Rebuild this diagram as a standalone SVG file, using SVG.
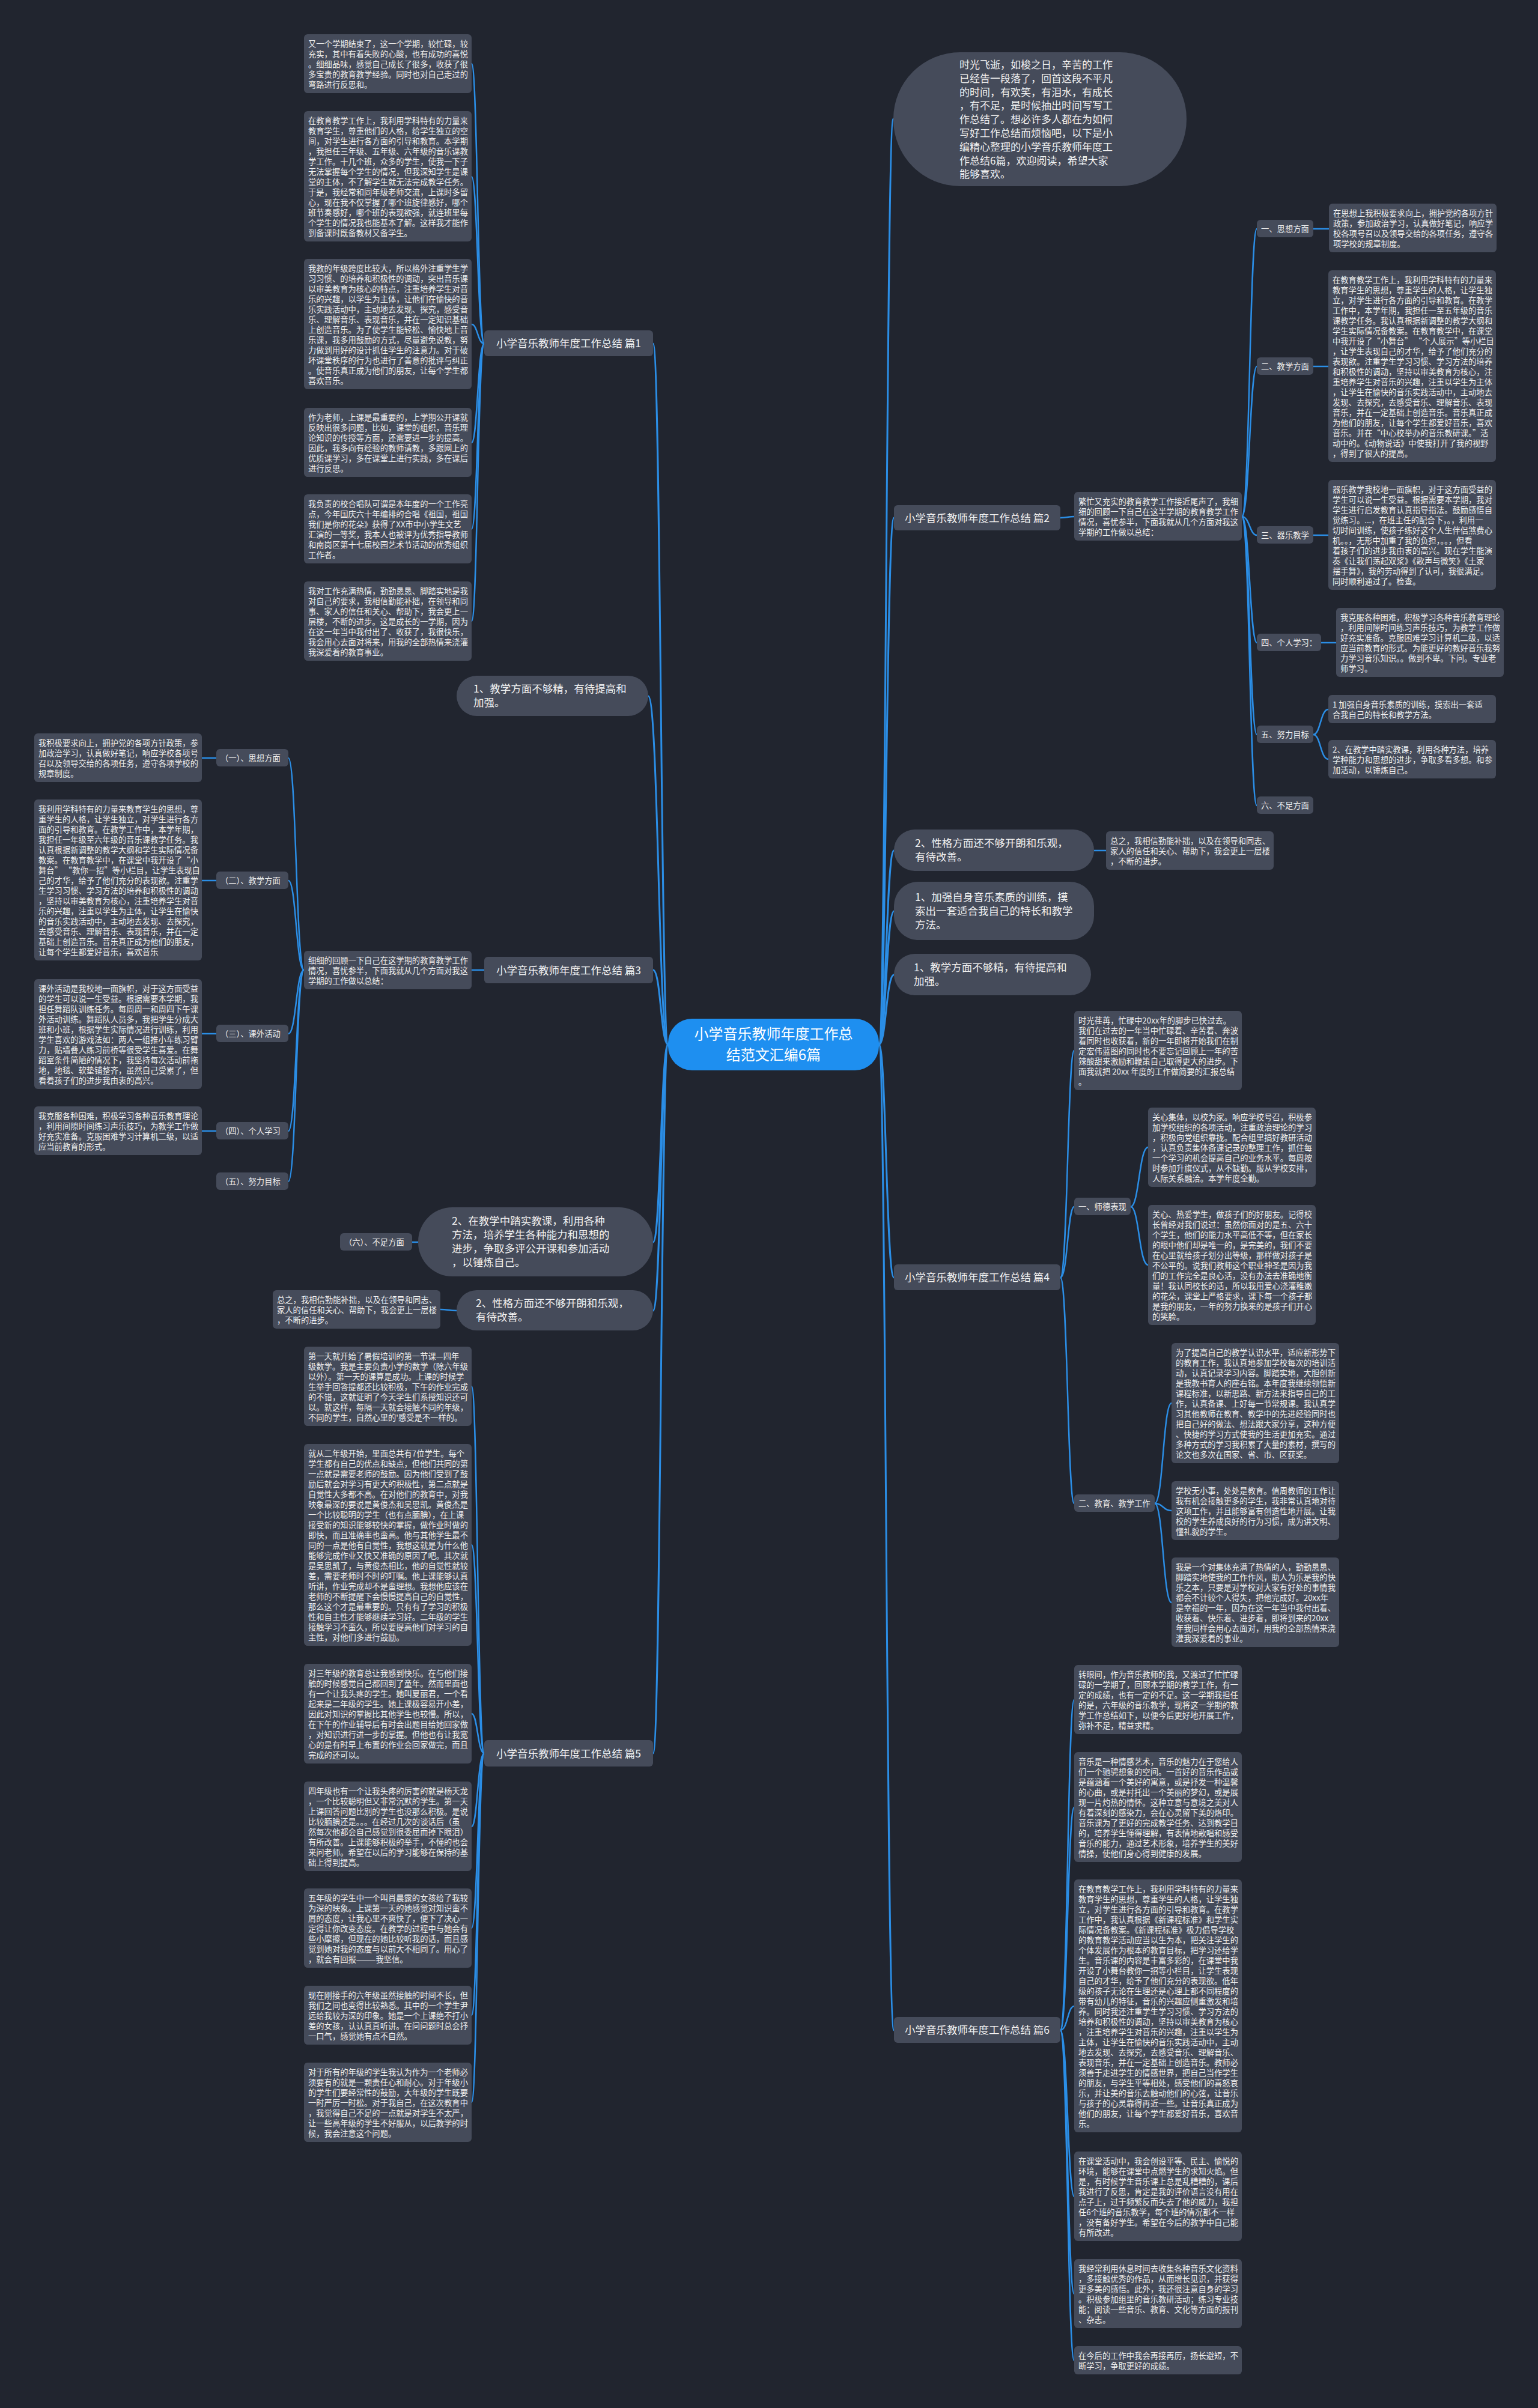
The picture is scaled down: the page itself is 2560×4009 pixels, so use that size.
<svg xmlns="http://www.w3.org/2000/svg" width="2560" height="4009" viewBox="0 0 2560 4009">
<style>
.n{fill:#454b5a}
.t{font-family:"Noto Sans CJK SC","Noto Sans",sans-serif;font-size:13.3px;fill:#f0f0f0}
.t1{font-family:"Noto Sans CJK SC","Noto Sans",sans-serif;font-size:17.5px;fill:#f2f2f2}
.c{fill:none;stroke:#2b8ee6;stroke-width:2.5}
.c0{fill:none;stroke:#2b8ee6;stroke-width:3}
</style>
<rect x="0" y="0" width="2560" height="4009" fill="#21252f"/>
<g id="connectors">
<path class="c0" d="M1463 1739 C1475 1739 1475 198 1487 198"/>
<path class="c0" d="M1463 1739 C1475 1739 1475 862 1488 862"/>
<path class="c0" d="M1463 1739 C1475 1739 1475 1416 1488 1416"/>
<path class="c0" d="M1463 1739 C1475 1739 1475 1517 1488 1517"/>
<path class="c0" d="M1463 1739 C1475 1739 1475 1623 1488 1623"/>
<path class="c0" d="M1463 1739 C1475 1739 1475 2127 1488 2127"/>
<path class="c0" d="M1463 1739 C1475 1739 1475 3380 1488 3380"/>
<path class="c0" d="M1112 1739 C1100 1739 1100 572 1087 572"/>
<path class="c0" d="M1112 1739 C1096 1739 1096 1159 1079 1159"/>
<path class="c0" d="M1112 1739 C1100 1739 1100 1615 1087 1615"/>
<path class="c0" d="M1112 1739 C1100 1739 1100 2068 1087 2068"/>
<path class="c0" d="M1112 1739 C1100 1739 1100 2182 1087 2182"/>
<path class="c0" d="M1112 1739 C1100 1739 1100 2919 1087 2919"/>
<path class="c" d="M806 572 C795 572 795 106 785 106"/>
<path class="c" d="M806 572 C795 572 795 294 785 294"/>
<path class="c" d="M806 572 C795 572 795 540 785 540"/>
<path class="c" d="M806 572 C795 572 795 737 785 737"/>
<path class="c" d="M806 572 C795 572 795 881 785 881"/>
<path class="c" d="M806 572 C795 572 795 1034 785 1034"/>
<path class="c" d="M1765 862 C1777 862 1777 860 1788 860"/>
<path class="c" d="M2067 860 C2080 860 2080 381 2092 381"/>
<path class="c" d="M2067 860 C2080 860 2080 610 2092 610"/>
<path class="c" d="M2067 860 C2080 860 2080 891 2092 891"/>
<path class="c" d="M2067 860 C2080 860 2080 1070 2092 1070"/>
<path class="c" d="M2067 860 C2080 860 2080 1223 2092 1223"/>
<path class="c" d="M2067 860 C2080 860 2080 1341 2092 1341"/>
<path class="c" d="M2186 381 H2212"/>
<path class="c" d="M2186 610 H2211"/>
<path class="c" d="M2186 891 H2211"/>
<path class="c" d="M2199 1070 H2224"/>
<path class="c" d="M2186 1223 C2198 1223 2198 1181 2211 1181"/>
<path class="c" d="M2186 1223 C2198 1223 2198 1264 2211 1264"/>
<path class="c" d="M1821 1416 H1841"/>
<path class="c" d="M1765 2127 C1777 2127 1777 1749 1788 1749"/>
<path class="c" d="M1765 2127 C1777 2127 1777 2009 1788 2009"/>
<path class="c" d="M1765 2127 C1777 2127 1777 2503 1788 2503"/>
<path class="c" d="M1882 2009 C1896 2009 1896 1910 1911 1910"/>
<path class="c" d="M1882 2009 C1896 2009 1896 2106 1911 2106"/>
<path class="c" d="M1922 2503 C1936 2503 1936 2336 1950 2336"/>
<path class="c" d="M1922 2503 C1936 2503 1936 2515 1950 2515"/>
<path class="c" d="M1922 2503 C1936 2503 1936 2668 1950 2668"/>
<path class="c" d="M1765 3380 C1777 3380 1777 2830 1788 2830"/>
<path class="c" d="M1765 3380 C1777 3380 1777 3009 1788 3009"/>
<path class="c" d="M1765 3380 C1777 3380 1777 3340 1788 3340"/>
<path class="c" d="M1765 3380 C1777 3380 1777 3657 1788 3657"/>
<path class="c" d="M1765 3380 C1777 3380 1777 3819 1788 3819"/>
<path class="c" d="M1765 3380 C1777 3380 1777 3930 1788 3930"/>
<path class="c" d="M806 1615 H785"/>
<path class="c" d="M506 1615 C493 1615 493 1262 480 1262"/>
<path class="c" d="M506 1615 C493 1615 493 1466 480 1466"/>
<path class="c" d="M506 1615 C493 1615 493 1721 480 1721"/>
<path class="c" d="M506 1615 C493 1615 493 1883 480 1883"/>
<path class="c" d="M506 1615 C493 1615 493 1967 480 1967"/>
<path class="c" d="M360 1262 H336"/>
<path class="c" d="M360 1466 H336"/>
<path class="c" d="M360 1721 H336"/>
<path class="c" d="M360 1883 H336"/>
<path class="c" d="M696 2068 H686"/>
<path class="c" d="M760 2182 C746 2182 746 2180 733 2180"/>
<path class="c" d="M806 2919 C795 2919 795 2308 785 2308"/>
<path class="c" d="M806 2919 C795 2919 795 2572 785 2572"/>
<path class="c" d="M806 2919 C795 2919 795 2853 785 2853"/>
<path class="c" d="M806 2919 C795 2919 795 3041 785 3041"/>
<path class="c" d="M806 2919 C795 2919 795 3210 785 3210"/>
<path class="c" d="M806 2919 C795 2919 795 3355 785 3355"/>
<path class="c" d="M806 2919 C795 2919 795 3500 785 3500"/>
</g>

<g id="root">
<rect x="1112" y="1696" width="351" height="86" rx="40" fill="#1e8ff0"/>
<text x="1287.5" y="1730" text-anchor="middle" style="font-family:'Noto Sans CJK SC',sans-serif;font-size:24px;fill:#ffffff">小学音乐教师年度工作总</text>
<text x="1287.5" y="1765" text-anchor="middle" style="font-family:'Noto Sans CJK SC',sans-serif;font-size:24px;fill:#ffffff">结范文汇编6篇</text>
</g>

<g id="intro">
<rect class="n" x="1487" y="87" width="488" height="223" rx="111"/>
<text class="t1" style="font-size:17px" x="1597" y="114"><tspan x="1597">时光飞逝，如梭之日，辛苦的工作</tspan><tspan x="1597" dy="22.8">已经告一段落了，回首这段不平凡</tspan><tspan x="1597" dy="22.8">的时间，有欢笑，有泪水，有成长</tspan><tspan x="1597" dy="22.8">，有不足，是时候抽出时间写写工</tspan><tspan x="1597" dy="22.8">作总结了。想必许多人都在为如何</tspan><tspan x="1597" dy="22.8">写好工作总结而烦恼吧，以下是小</tspan><tspan x="1597" dy="22.8">编精心整理的小学音乐教师年度工</tspan><tspan x="1597" dy="22.8">作总结6篇，欢迎阅读，希望大家</tspan><tspan x="1597" dy="22.8">能够喜欢。</tspan></text>
</g>

<g id="p1">
<rect class="n" x="806" y="550" width="281" height="43" rx="6"/>
<text class="t1" x="946.5" y="578" text-anchor="middle">小学音乐教师年度工作总结 篇1</text>
</g>
<g id="p1b1"><rect class="n" x="506" y="57" width="279" height="98" rx="6"/><text class="t" x="513" y="77.5"><tspan x="513">又一个学期结束了，这一个学期，较忙碌，较</tspan><tspan x="513" dy="17">充实，其中有着失败的心酸，也有成功的喜悦</tspan><tspan x="513" dy="17">。细细品味，感觉自己成长了很多，收获了很</tspan><tspan x="513" dy="17">多宝贵的教育教学经验。同时也对自己走过的</tspan><tspan x="513" dy="17">弯路进行反思和。</tspan></text></g>
<g id="p1b2"><rect class="n" x="506" y="185" width="279" height="217" rx="6"/><text class="t" x="513" y="205.5"><tspan x="513">在教育教学工作上，我利用学科特有的力量来</tspan><tspan x="513" dy="17">教育学生，尊重他们的人格，给学生独立的空</tspan><tspan x="513" dy="17">间，对学生进行各方面的引导和教育。本学期</tspan><tspan x="513" dy="17">，我担任三年级、五年级、六年级的音乐课教</tspan><tspan x="513" dy="17">学工作。十几个班，众多的学生，使我一下子</tspan><tspan x="513" dy="17">无法掌握每个学生的情况，但我深知学生是课</tspan><tspan x="513" dy="17">堂的主体，不了解学生就无法完成教学任务。</tspan><tspan x="513" dy="17">于是，我经常和同年级老师交流，上课时多留</tspan><tspan x="513" dy="17">心，现在我不仅掌握了哪个班旋律感好，哪个</tspan><tspan x="513" dy="17">班节奏感好，哪个班的表现欲强，就连班里每</tspan><tspan x="513" dy="17">个学生的情况我也能基本了解。这样我才能作</tspan><tspan x="513" dy="17">到备课时既备教材又备学生。</tspan></text></g>
<g id="p1b3"><rect class="n" x="506" y="431" width="279" height="217" rx="6"/><text class="t" x="513" y="451.5"><tspan x="513">我教的年级跨度比较大，所以格外注重学生学</tspan><tspan x="513" dy="17">习习惯、的培养和积极性的调动，突出音乐课</tspan><tspan x="513" dy="17">以审美教育为核心的特点，注重培养学生对音</tspan><tspan x="513" dy="17">乐的兴趣，以学生为主体，让他们在愉快的音</tspan><tspan x="513" dy="17">乐实践活动中，主动地去发现、探究，感受音</tspan><tspan x="513" dy="17">乐、理解音乐、表现音乐，并在一定知识基础</tspan><tspan x="513" dy="17">上创造音乐。为了使学生能轻松、愉快地上音</tspan><tspan x="513" dy="17">乐课，我多用鼓励的方式，尽量避免说教，努</tspan><tspan x="513" dy="17">力做到用好的设计抓住学生的注意力。对于破</tspan><tspan x="513" dy="17">坏课堂秩序的行为也进行了善意的批评与纠正</tspan><tspan x="513" dy="17">。使音乐真正成为他们的朋友，让每个学生都</tspan><tspan x="513" dy="17">喜欢音乐。</tspan></text></g>
<g id="p1b4"><rect class="n" x="506" y="679" width="279" height="115" rx="6"/><text class="t" x="513" y="699.5"><tspan x="513">作为老师，上课是最重要的，上学期公开课就</tspan><tspan x="513" dy="17">反映出很多问题，比如，课堂的组织，音乐理</tspan><tspan x="513" dy="17">论知识的传授等方面，还需要进一步的提高。</tspan><tspan x="513" dy="17">因此，我多向有经验的教师请教，多跟网上的</tspan><tspan x="513" dy="17">优质课学习，多在课堂上进行实践，多在课后</tspan><tspan x="513" dy="17">进行反思。</tspan></text></g>
<g id="p1b5"><rect class="n" x="506" y="823" width="279" height="115" rx="6"/><text class="t" x="513" y="843.5"><tspan x="513">我负责的校合唱队可谓是本年度的一个工作亮</tspan><tspan x="513" dy="17">点，今年国庆六十年编排的合唱《祖国，祖国</tspan><tspan x="513" dy="17">我们是你的花朵》获得了XX市中小学生文艺</tspan><tspan x="513" dy="17">汇演的一等奖，我本人也被评为优秀指导教师</tspan><tspan x="513" dy="17">和南岗区第十七届校园艺术节活动的优秀组织</tspan><tspan x="513" dy="17">工作者。</tspan></text></g>
<g id="p1b6"><rect class="n" x="506" y="968" width="279" height="132" rx="6"/><text class="t" x="513" y="988.5"><tspan x="513">我对工作充满热情，勤勤恳恳、脚踏实地是我</tspan><tspan x="513" dy="17">对自己的要求，我相信勤能补拙，在领导和同</tspan><tspan x="513" dy="17">事、家人的信任和关心、帮助下，我会更上一</tspan><tspan x="513" dy="17">层楼，不断的进步。这是成长的一学期，因为</tspan><tspan x="513" dy="17">在这一年当中我付出了、收获了，我很快乐，</tspan><tspan x="513" dy="17">我会用心去面对将来，用我的全部热情来浇灌</tspan><tspan x="513" dy="17">我深爱着的教育事业。</tspan></text></g>

<g id="p2">
<rect class="n" x="1488" y="841" width="277" height="42" rx="6"/>
<text class="t1" x="1626.5" y="868.5" text-anchor="middle">小学音乐教师年度工作总结 篇2</text>
</g>
<g id="p2intro"><rect class="n" x="1788" y="819" width="279" height="81" rx="6"/><text class="t" x="1795" y="839.5"><tspan x="1795">繁忙又充实的教育教学工作接近尾声了，我细</tspan><tspan x="1795" dy="17">细的回顾一下自己在这半学期的教育教学工作</tspan><tspan x="1795" dy="17">情况，喜忧参半，下面我就从几个方面对我这</tspan><tspan x="1795" dy="17">学期的工作做以总结：</tspan></text></g>
<g id="p2s1"><rect class="n" x="2092" y="366" width="94" height="29" rx="6"/><text class="t" x="2099" y="385.5">一、思想方面</text></g>
<g id="p2s2"><rect class="n" x="2092" y="595" width="94" height="29" rx="6"/><text class="t" x="2099" y="614.5">二、教学方面</text></g>
<g id="p2s3"><rect class="n" x="2092" y="876" width="94" height="29" rx="6"/><text class="t" x="2099" y="895.5">三、器乐教学</text></g>
<g id="p2s4"><rect class="n" x="2092" y="1055" width="107" height="29" rx="6"/><text class="t" x="2099" y="1074.5">四、个人学习：</text></g>
<g id="p2s5"><rect class="n" x="2092" y="1208" width="94" height="29" rx="6"/><text class="t" x="2099" y="1227.5">五、努力目标</text></g>
<g id="p2s6"><rect class="n" x="2092" y="1326" width="94" height="29" rx="6"/><text class="t" x="2099" y="1345.5">六、不足方面</text></g>
<g id="p2t1"><rect class="n" x="2212" y="339" width="279" height="81" rx="6"/><text class="t" x="2219" y="359.5"><tspan x="2219">在思想上我积极要求向上，拥护党的各项方针</tspan><tspan x="2219" dy="17">政策，参加政治学习，认真做好笔记，响应学</tspan><tspan x="2219" dy="17">校各项号召以及领导交给的各项任务，遵守各</tspan><tspan x="2219" dy="17">项学校的规章制度。</tspan></text></g>
<g id="p2t2"><rect class="n" x="2211" y="450" width="279" height="319" rx="6"/><text class="t" x="2218" y="470.5"><tspan x="2218">在教育教学工作上，我利用学科特有的力量来</tspan><tspan x="2218" dy="17">教育学生的思想，尊重学生的人格，让学生独</tspan><tspan x="2218" dy="17">立，对学生进行各方面的引导和教育。在教学</tspan><tspan x="2218" dy="17">工作中，本学年期，我担任一至五年级的音乐</tspan><tspan x="2218" dy="17">课教学任务。我认真根据新调整的教学大纲和</tspan><tspan x="2218" dy="17">学生实际情况备教案。在教育教学中，在课堂</tspan><tspan x="2218" dy="17">中我开设了“小舞台” “个人展示”等小栏目</tspan><tspan x="2218" dy="17">，让学生表现自己的才华，给予了他们充分的</tspan><tspan x="2218" dy="17">表现欲。注重学生学习习惯、学习方法的培养</tspan><tspan x="2218" dy="17">和积极性的调动，坚持以审美教育为核心，注</tspan><tspan x="2218" dy="17">重培养学生对音乐的兴趣，注重以学生为主体</tspan><tspan x="2218" dy="17">，让学生在愉快的音乐实践活动中，主动地去</tspan><tspan x="2218" dy="17">发现、去探究，去感受音乐、理解音乐、表现</tspan><tspan x="2218" dy="17">音乐，并在一定基础上创造音乐。音乐真正成</tspan><tspan x="2218" dy="17">为他们的朋友，让每个学生都爱好音乐，喜欢</tspan><tspan x="2218" dy="17">音乐。并在“中心校举办的音乐教研课。”活</tspan><tspan x="2218" dy="17">动中的。《动物说话》中使我打开了我的视野</tspan><tspan x="2218" dy="17">，得到了很大的提高。</tspan></text></g>
<g id="p2t3"><rect class="n" x="2211" y="799" width="279" height="183" rx="6"/><text class="t" x="2218" y="819.5"><tspan x="2218">器乐教学我校地一面旗帜，对于这方面受益的</tspan><tspan x="2218" dy="17">学生可以说一生受益。根据需要本学期，我对</tspan><tspan x="2218" dy="17">学生进行启发教育认真指导指法。鼓励感悟自</tspan><tspan x="2218" dy="17">觉练习。...，在班主任的配合下，。，利用一</tspan><tspan x="2218" dy="17">切时间训练，使孩子练好这个人生伴侣煞费心</tspan><tspan x="2218" dy="17">机。。，无形中加重了我的负担，。。，但看</tspan><tspan x="2218" dy="17">着孩子们的进步我由衷的高兴。现在学生能演</tspan><tspan x="2218" dy="17">奏《让我们荡起双浆》《歌声与微笑》《土家</tspan><tspan x="2218" dy="17">摆手舞》，我的劳动得到了认可，我很满足。</tspan><tspan x="2218" dy="17">同时顺利通过了。检查。</tspan></text></g>
<g id="p2t4"><rect class="n" x="2224" y="1012" width="279" height="115" rx="6"/><text class="t" x="2231" y="1032.5"><tspan x="2231">我克服各种困难，积极学习各种音乐教育理论</tspan><tspan x="2231" dy="17">，利用间隙时间练习声乐技巧，为教学工作做</tspan><tspan x="2231" dy="17">好充实准备。克服困难学习计算机二级，以适</tspan><tspan x="2231" dy="17">应当前教育的形式。为能更好的教好音乐我努</tspan><tspan x="2231" dy="17">力学习音乐知识。。做到不卑。下问。专业老</tspan><tspan x="2231" dy="17">师学习。</tspan></text></g>
<g id="p2t5a"><rect class="n" x="2211" y="1157" width="279" height="47" rx="6"/><text class="t" x="2218" y="1177.5"><tspan x="2218">1 加强自身音乐素质的训练，摸索出一套适</tspan><tspan x="2218" dy="17">合我自己的特长和教学方法。</tspan></text></g>
<g id="p2t5b"><rect class="n" x="2211" y="1232" width="279" height="64" rx="6"/><text class="t" x="2218" y="1252.5"><tspan x="2218">2、在教学中踏实教课，利用各种方法，培养</tspan><tspan x="2218" dy="17">学种能力和思想的进步，争取多看多想。和参</tspan><tspan x="2218" dy="17">加活动，以锤炼自己。</tspan></text></g>

<g id="r3">
<rect class="n" x="1488" y="1381" width="333" height="69" rx="34.5"/>
<text class="t1" x="1523" y="1410"><tspan x="1523">2、性格方面还不够开朗和乐观，</tspan><tspan x="1523" dy="23">有待改善。</tspan></text>
</g>
<g id="r3c"><rect class="n" x="1841" y="1384" width="279" height="64" rx="6"/><text class="t" x="1848" y="1404.5"><tspan x="1848">总之，我相信勤能补拙，以及在领导和同志、</tspan><tspan x="1848" dy="17">家人的信任和关心、帮助下，我会更上一层楼</tspan><tspan x="1848" dy="17">，不断的进步。</tspan></text></g>
<g id="r4">
<rect class="n" x="1488" y="1468" width="333" height="97" rx="40"/>
<text class="t1" x="1523" y="1499.5"><tspan x="1523">1、加强自身音乐素质的训练，摸</tspan><tspan x="1523" dy="23">索出一套适合我自己的特长和教学</tspan><tspan x="1523" dy="23">方法。</tspan></text>
</g>
<g id="r5">
<rect class="n" x="1488" y="1588" width="328" height="69" rx="34.5"/>
<text class="t1" x="1521" y="1617"><tspan x="1521">1、教学方面不够精，有待提高和</tspan><tspan x="1521" dy="23">加强。</tspan></text>
</g>

<g id="p4">
<rect class="n" x="1488" y="2105" width="277" height="43" rx="6"/>
<text class="t1" x="1626.5" y="2133" text-anchor="middle">小学音乐教师年度工作总结 篇4</text>
</g>
<g id="p4intro"><rect class="n" x="1788" y="1683" width="279" height="132" rx="6"/><text class="t" x="1795" y="1703.5"><tspan x="1795">时光荏苒，忙碌中20xx年的脚步已快过去。</tspan><tspan x="1795" dy="17">我们在过去的一年当中忙碌着、辛苦着、奔波</tspan><tspan x="1795" dy="17">着同时也收获着，新的一年即将开始我们在制</tspan><tspan x="1795" dy="17">定宏伟蓝图的同时也不要忘记回顾上一年的苦</tspan><tspan x="1795" dy="17">辣酸甜来激励和鞭策自己取得更大的进步。下</tspan><tspan x="1795" dy="17">面我就把 20xx 年度的工作做简要的汇报总结</tspan><tspan x="1795" dy="17">。</tspan></text></g>
<g id="p4s1"><rect class="n" x="1788" y="1994" width="94" height="29" rx="6"/><text class="t" x="1795" y="2013.5">一、师德表现</text></g>
<g id="p4s2"><rect class="n" x="1788" y="2488" width="134" height="29" rx="6"/><text class="t" x="1795" y="2507.5">二、教育、教学工作</text></g>
<g id="p4c1"><rect class="n" x="1911" y="1844" width="279" height="132" rx="6"/><text class="t" x="1918" y="1864.5"><tspan x="1918">关心集体，以校为家。响应学校号召，积极参</tspan><tspan x="1918" dy="17">加学校组织的各项活动，注重政治理论的学习</tspan><tspan x="1918" dy="17">，积极向党组织靠拢。配合组里搞好教研活动</tspan><tspan x="1918" dy="17">，认真负责集体备课记录的整理工作，抓住每</tspan><tspan x="1918" dy="17">一个学习的机会提高自己的业务水平。每周按</tspan><tspan x="1918" dy="17">时参加升旗仪式，从不缺勤。服从学校安排，</tspan><tspan x="1918" dy="17">人际关系融洽。本学年度全勤。</tspan></text></g>
<g id="p4c2"><rect class="n" x="1911" y="2006" width="279" height="200" rx="6"/><text class="t" x="1918" y="2026.5"><tspan x="1918">关心、热爱学生，做孩子们的好朋友。记得校</tspan><tspan x="1918" dy="17">长曾经对我们说过：虽然你面对的是五、六十</tspan><tspan x="1918" dy="17">个学生，他们的能力水平高低不等，但在家长</tspan><tspan x="1918" dy="17">的眼中他们却是唯一的，是完美的，我们不要</tspan><tspan x="1918" dy="17">在心里就给孩子划分出等级，那样做对孩子是</tspan><tspan x="1918" dy="17">不公平的。说我们教师这个职业神圣是因为我</tspan><tspan x="1918" dy="17">们的工作完全是良心活，没有办法去准确地衡</tspan><tspan x="1918" dy="17">量！我认同校长的话，所以我用爱心浇灌稚嫩</tspan><tspan x="1918" dy="17">的花朵，课堂上严格要求，课下每一个孩子都</tspan><tspan x="1918" dy="17">是我的朋友，一年的努力换来的是孩子们开心</tspan><tspan x="1918" dy="17">的笑脸。</tspan></text></g>
<g id="p4d1"><rect class="n" x="1950" y="2236" width="279" height="200" rx="6"/><text class="t" x="1957" y="2256.5"><tspan x="1957">为了提高自己的教学认识水平，适应新形势下</tspan><tspan x="1957" dy="17">的教育工作，我认真地参加学校每次的培训活</tspan><tspan x="1957" dy="17">动，认真记录学习内容。脚踏实地，大胆创新</tspan><tspan x="1957" dy="17">是我教书育人的座右铭。本年度我继续领悟新</tspan><tspan x="1957" dy="17">课程标准，以新思路、新方法来指导自己的工</tspan><tspan x="1957" dy="17">作，认真备课、上好每一节常规课。我认真学</tspan><tspan x="1957" dy="17">习其他教师在教育、教学中的先进经验同时也</tspan><tspan x="1957" dy="17">把自己好的做法、想法跟大家分享，这种方便</tspan><tspan x="1957" dy="17">、快捷的学习方式使我的生活更加充实。通过</tspan><tspan x="1957" dy="17">多种方式的学习我积累了大量的素材，撰写的</tspan><tspan x="1957" dy="17">论文也多次在国家、省、市、区获奖。</tspan></text></g>
<g id="p4d2"><rect class="n" x="1950" y="2466" width="279" height="98" rx="6"/><text class="t" x="1957" y="2486.5"><tspan x="1957">学校无小事，处处是教育。值周教师的工作让</tspan><tspan x="1957" dy="17">我有机会接触更多的学生，我非常认真地对待</tspan><tspan x="1957" dy="17">这项工作，并且能够富有创造性地开展。让我</tspan><tspan x="1957" dy="17">校的学生养成良好的行为习惯，成为讲文明、</tspan><tspan x="1957" dy="17">懂礼貌的学生。</tspan></text></g>
<g id="p4d3"><rect class="n" x="1950" y="2593" width="279" height="149" rx="6"/><text class="t" x="1957" y="2613.5"><tspan x="1957">我是一个对集体充满了热情的人，勤勤恳恳、</tspan><tspan x="1957" dy="17">脚踏实地使我的工作作风，助人为乐是我的快</tspan><tspan x="1957" dy="17">乐之本，只要是对学校对大家有好处的事情我</tspan><tspan x="1957" dy="17">都会不计较个人得失，把他完成好。20xx年</tspan><tspan x="1957" dy="17">是幸福的一年，因为在这一年当中我付出着、</tspan><tspan x="1957" dy="17">收获着、快乐着、进步着，即将到来的20xx</tspan><tspan x="1957" dy="17">年我同样会用心去面对，用我的全部热情来浇</tspan><tspan x="1957" dy="17">灌我深爱着的事业。</tspan></text></g>

<g id="p6">
<rect class="n" x="1488" y="3358" width="277" height="43" rx="6"/>
<text class="t1" x="1626.5" y="3386" text-anchor="middle">小学音乐教师年度工作总结 篇6</text>
</g>
<g id="p6f1"><rect class="n" x="1788" y="2772" width="279" height="115" rx="6"/><text class="t" x="1795" y="2792.5"><tspan x="1795">转眼间，作为音乐教师的我，又渡过了忙忙碌</tspan><tspan x="1795" dy="17">碌的一学期了，回顾本学期的教学工作，有一</tspan><tspan x="1795" dy="17">定的成绩，也有一定的不足。这一学期我担任</tspan><tspan x="1795" dy="17">的是，六年级的音乐教学，现将这一学期的教</tspan><tspan x="1795" dy="17">学工作总结如下，以便今后更好地开展工作，</tspan><tspan x="1795" dy="17">弥补不足，精益求精。</tspan></text></g>
<g id="p6f2"><rect class="n" x="1788" y="2917" width="279" height="183" rx="6"/><text class="t" x="1795" y="2937.5"><tspan x="1795">音乐是一种情感艺术，音乐的魅力在于您给人</tspan><tspan x="1795" dy="17">们一个驰骋想象的空间。一首好的音乐作品或</tspan><tspan x="1795" dy="17">是蕴涵着一个美好的寓意，或是抒发一种温馨</tspan><tspan x="1795" dy="17">的心曲，或是衬托出一个美丽的梦幻，或是展</tspan><tspan x="1795" dy="17">现一片灼热的情怀。这种立意与意境之美对人</tspan><tspan x="1795" dy="17">有着深刻的感染力，会在心灵留下美的烙印。</tspan><tspan x="1795" dy="17">音乐课为了更好的完成教学任务、达到教学目</tspan><tspan x="1795" dy="17">的，培养学生懂得理解，有表情地歌唱和感受</tspan><tspan x="1795" dy="17">音乐的能力，通过艺术形象，培养学生的美好</tspan><tspan x="1795" dy="17">情操，使他们身心得到健康的发展。</tspan></text></g>
<g id="p6f3"><rect class="n" x="1788" y="3129" width="279" height="421" rx="6"/><text class="t" x="1795" y="3149.5"><tspan x="1795">在教育教学工作上，我利用学科特有的力量来</tspan><tspan x="1795" dy="17">教育学生的思想，尊重学生的人格，让学生独</tspan><tspan x="1795" dy="17">立，对学生进行各方面的引导和教育。在教学</tspan><tspan x="1795" dy="17">工作中，我认真根据《新课程标准》和学生实</tspan><tspan x="1795" dy="17">际情况备教案。《新课程标准》极力倡导学校</tspan><tspan x="1795" dy="17">的教育教学活动应当以生为本，把关注学生的</tspan><tspan x="1795" dy="17">个体发展作为根本的教育目标，把学习还给学</tspan><tspan x="1795" dy="17">生。音乐课的内容是丰富多彩的，在课堂中我</tspan><tspan x="1795" dy="17">开设了小舞台教你一招等小栏目，让学生表现</tspan><tspan x="1795" dy="17">自己的才华，给予了他们充分的表现欲。低年</tspan><tspan x="1795" dy="17">级的孩子无论在生理还是心理上都不同程度的</tspan><tspan x="1795" dy="17">带有幼儿的特征，音乐的兴趣应侧重激发和培</tspan><tspan x="1795" dy="17">养。同时我还注重学生学习习惯、学习方法的</tspan><tspan x="1795" dy="17">培养和积极性的调动，坚持以审美教育为核心</tspan><tspan x="1795" dy="17">，注重培养学生对音乐的兴趣，注重以学生为</tspan><tspan x="1795" dy="17">主体，让学生在愉快的音乐实践活动中，主动</tspan><tspan x="1795" dy="17">地去发现、去探究，去感受音乐、理解音乐、</tspan><tspan x="1795" dy="17">表现音乐，并在一定基础上创造音乐。教师必</tspan><tspan x="1795" dy="17">须善于走进学生的情感世界，把自己当作学生</tspan><tspan x="1795" dy="17">的朋友，与学生平等相处，感受他们的喜怒哀</tspan><tspan x="1795" dy="17">乐，并让美的音乐去触动他们的心弦，让音乐</tspan><tspan x="1795" dy="17">与孩子的心灵靠得再近一些。让音乐真正成为</tspan><tspan x="1795" dy="17">他们的朋友，让每个学生都爱好音乐，喜欢音</tspan><tspan x="1795" dy="17">乐。</tspan></text></g>
<g id="p6f4"><rect class="n" x="1788" y="3582" width="279" height="149" rx="6"/><text class="t" x="1795" y="3602.5"><tspan x="1795">在课堂活动中，我会创设平等、民主、愉悦的</tspan><tspan x="1795" dy="17">环境，能够在课堂中点燃学生的求知火焰。但</tspan><tspan x="1795" dy="17">是，有时候学生音乐课上总是乱糟糟的，课后</tspan><tspan x="1795" dy="17">我进行了反思，肯定是我的评价语言没有用在</tspan><tspan x="1795" dy="17">点子上，过于频繁反而失去了他的威力，我担</tspan><tspan x="1795" dy="17">任6个班的音乐教学，每个班的情况都不一样</tspan><tspan x="1795" dy="17">，没有备好学生。希望在今后的教学中自己能</tspan><tspan x="1795" dy="17">有所改进。</tspan></text></g>
<g id="p6f5"><rect class="n" x="1788" y="3761" width="279" height="115" rx="6"/><text class="t" x="1795" y="3781.5"><tspan x="1795">我经常利用休息时间去收集各种音乐文化资料</tspan><tspan x="1795" dy="17">，多接触优秀的作品，从而增长见识，并获得</tspan><tspan x="1795" dy="17">更多美的感悟。此外，我还很注意自身的学习</tspan><tspan x="1795" dy="17">。积极参加组里的音乐教研活动；练习专业技</tspan><tspan x="1795" dy="17">能；阅读一些音乐、教育、文化等方面的报刊</tspan><tspan x="1795" dy="17">、杂志。</tspan></text></g>
<g id="p6f6"><rect class="n" x="1788" y="3906" width="279" height="47" rx="6"/><text class="t" x="1795" y="3926.5"><tspan x="1795">在今后的工作中我会再接再厉，扬长避短，不</tspan><tspan x="1795" dy="17">断学习，争取更好的成绩。</tspan></text></g>

<g id="l2">
<rect class="n" x="760" y="1125" width="319" height="67" rx="33.5"/>
<text class="t1" x="788" y="1153"><tspan x="788">1、教学方面不够精，有待提高和</tspan><tspan x="788" dy="23">加强。</tspan></text>
</g>

<g id="p3">
<rect class="n" x="806" y="1593" width="281" height="44" rx="6"/>
<text class="t1" x="946.5" y="1621.5" text-anchor="middle">小学音乐教师年度工作总结 篇3</text>
</g>
<g id="p3intro"><rect class="n" x="506" y="1583" width="279" height="64" rx="6"/><text class="t" x="513" y="1603.5"><tspan x="513">细细的回顾一下自己在这学期的教育教学工作</tspan><tspan x="513" dy="17">情况，喜忧参半，下面我就从几个方面对我这</tspan><tspan x="513" dy="17">学期的工作做以总结：</tspan></text></g>
<g id="p3s1"><rect class="n" x="360" y="1247" width="120" height="29" rx="6"/><text class="t" x="367" y="1266.5">（一）、思想方面</text></g>
<g id="p3s2"><rect class="n" x="360" y="1451" width="120" height="29" rx="6"/><text class="t" x="367" y="1470.5">（二）、教学方面</text></g>
<g id="p3s3"><rect class="n" x="360" y="1706" width="120" height="29" rx="6"/><text class="t" x="367" y="1725.5">（三）、课外活动</text></g>
<g id="p3s4"><rect class="n" x="360" y="1868" width="120" height="29" rx="6"/><text class="t" x="367" y="1887.5">（四）、个人学习</text></g>
<g id="p3s5"><rect class="n" x="360" y="1952" width="120" height="29" rx="6"/><text class="t" x="367" y="1971.5">（五）、努力目标</text></g>
<g id="p3t1"><rect class="n" x="57" y="1221" width="279" height="81" rx="6"/><text class="t" x="64" y="1241.5"><tspan x="64">我积极要求向上，拥护党的各项方针政策，参</tspan><tspan x="64" dy="17">加政治学习，认真做好笔记，响应学校各项号</tspan><tspan x="64" dy="17">召以及领导交给的各项任务，遵守各项学校的</tspan><tspan x="64" dy="17">规章制度。</tspan></text></g>
<g id="p3t2"><rect class="n" x="57" y="1331" width="279" height="268" rx="6"/><text class="t" x="64" y="1351.5"><tspan x="64">我利用学科特有的力量来教育学生的思想，尊</tspan><tspan x="64" dy="17">重学生的人格，让学生独立，对学生进行各方</tspan><tspan x="64" dy="17">面的引导和教育。在教学工作中，本学年期，</tspan><tspan x="64" dy="17">我担任一年级至六年级的音乐课教学任务。我</tspan><tspan x="64" dy="17">认真根据新调整的教学大纲和学生实际情况备</tspan><tspan x="64" dy="17">教案。在教育教学中，在课堂中我开设了“小</tspan><tspan x="64" dy="17">舞台” “教你一招”等小栏目，让学生表现自</tspan><tspan x="64" dy="17">己的才华，给予了他们充分的表现欲。注重学</tspan><tspan x="64" dy="17">生学习习惯、学习方法的培养和积极性的调动</tspan><tspan x="64" dy="17">，坚持以审美教育为核心，注重培养学生对音</tspan><tspan x="64" dy="17">乐的兴趣，注重以学生为主体，让学生在愉快</tspan><tspan x="64" dy="17">的音乐实践活动中，主动地去发现、去探究，</tspan><tspan x="64" dy="17">去感受音乐、理解音乐、表现音乐，并在一定</tspan><tspan x="64" dy="17">基础上创造音乐。音乐真正成为他们的朋友，</tspan><tspan x="64" dy="17">让每个学生都爱好音乐，喜欢音乐</tspan></text></g>
<g id="p3t3"><rect class="n" x="57" y="1630" width="279" height="183" rx="6"/><text class="t" x="64" y="1650.5"><tspan x="64">课外活动是我校地一面旗帜，对于这方面受益</tspan><tspan x="64" dy="17">的学生可以说一生受益。根据需要本学期，我</tspan><tspan x="64" dy="17">担任舞蹈队训练任务。每周周一和周四下午课</tspan><tspan x="64" dy="17">外活动训练。舞蹈队人员多，我把学生分成大</tspan><tspan x="64" dy="17">班和小班，根据学生实际情况进行训练，利用</tspan><tspan x="64" dy="17">学生喜欢的游戏法如：两人一组推小车练习臂</tspan><tspan x="64" dy="17">力，贴墙叠人练习前桥等很受学生喜爱。在舞</tspan><tspan x="64" dy="17">蹈室条件简陋的情况下，我坚持每次活动前拖</tspan><tspan x="64" dy="17">地，地毯、软垫铺整齐，虽然自己受累了，但</tspan><tspan x="64" dy="17">看着孩子们的进步我由衷的高兴。</tspan></text></g>
<g id="p3t4"><rect class="n" x="57" y="1842" width="279" height="81" rx="6"/><text class="t" x="64" y="1862.5"><tspan x="64">我克服各种困难，积极学习各种音乐教育理论</tspan><tspan x="64" dy="17">，利用间隙时间练习声乐技巧，为教学工作做</tspan><tspan x="64" dy="17">好充实准备。克服困难学习计算机二级，以适</tspan><tspan x="64" dy="17">应当前教育的形式。</tspan></text></g>

<g id="l4">
<rect class="n" x="696" y="2010" width="391" height="115" rx="57"/>
<text class="t1" x="752" y="2039"><tspan x="752">2、在教学中踏实教课，利用各种</tspan><tspan x="752" dy="23">方法，培养学生各种能力和思想的</tspan><tspan x="752" dy="23">进步，争取多评公开课和参加活动</tspan><tspan x="752" dy="23">，以锤炼自己。</tspan></text>
</g>
<g id="l4c"><rect class="n" x="566" y="2053" width="120" height="29" rx="6"/><text class="t" x="573" y="2072.5">（六）、不足方面</text></g>
<g id="l5">
<rect class="n" x="760" y="2148" width="327" height="67" rx="33.5"/>
<text class="t1" x="792" y="2176"><tspan x="792">2、性格方面还不够开朗和乐观，</tspan><tspan x="792" dy="23">有待改善。</tspan></text>
</g>
<g id="l5c"><rect class="n" x="454" y="2148" width="279" height="64" rx="6"/><text class="t" x="461" y="2168.5"><tspan x="461">总之，我相信勤能补拙，以及在领导和同志、</tspan><tspan x="461" dy="17">家人的信任和关心、帮助下，我会更上一层楼</tspan><tspan x="461" dy="17">，不断的进步。</tspan></text></g>

<g id="p5">
<rect class="n" x="806" y="2897" width="281" height="44" rx="6"/>
<text class="t1" x="946.5" y="2925.5" text-anchor="middle">小学音乐教师年度工作总结 篇5</text>
</g>
<g id="p5e1"><rect class="n" x="506" y="2242" width="279" height="132" rx="6"/><text class="t" x="513" y="2262.5"><tspan x="513">第一天就开始了暑假培训的第一节课—四年</tspan><tspan x="513" dy="17">级数学。我是主要负责小学的数学（除六年级</tspan><tspan x="513" dy="17">以外）。第一天的课算是成功。上课的时候学</tspan><tspan x="513" dy="17">生举手回答提都还比较积极，下午的作业完成</tspan><tspan x="513" dy="17">的不错，这就证明了今天学生们系授知识还可</tspan><tspan x="513" dy="17">以。就这样，每隔一天就会接触不同的年级，</tspan><tspan x="513" dy="17">不同的学生，自然心里的'感受是不一样的。</tspan></text></g>
<g id="p5e2"><rect class="n" x="506" y="2404" width="279" height="336" rx="6"/><text class="t" x="513" y="2424.5"><tspan x="513">就从二年级开始，里面总共有7位学生。每个</tspan><tspan x="513" dy="17">学生都有自己的优点和缺点，但他们共同的第</tspan><tspan x="513" dy="17">一点就是需要老师的鼓励。因为他们受到了鼓</tspan><tspan x="513" dy="17">励后就会对学习有更大的积极性，第二点就是</tspan><tspan x="513" dy="17">自觉性大多都不高。在对他们的教育中，对我</tspan><tspan x="513" dy="17">映象最深的要说是黄俊杰和吴思凯。黄俊杰是</tspan><tspan x="513" dy="17">一个比较聪明的学生（也有点腼腆），在上课</tspan><tspan x="513" dy="17">接受新的知识能够较快的掌握，做作业时做的</tspan><tspan x="513" dy="17">即快，而且准确率也蛮高。他与其他学生最不</tspan><tspan x="513" dy="17">同的一点是他有自觉性，我想这就是为什么他</tspan><tspan x="513" dy="17">能够完成作业又快又准确的原因了吧。其次就</tspan><tspan x="513" dy="17">是吴思凯了，与黄俊杰相比，他的自觉性就较</tspan><tspan x="513" dy="17">差，需要老师时不时的叮嘱。他上课能够认真</tspan><tspan x="513" dy="17">听讲，作业完成却不是蛮理想。我想他应该在</tspan><tspan x="513" dy="17">老师的不断提醒下会慢慢提高自己的自觉性，</tspan><tspan x="513" dy="17">那么这个才是最重要的。只有有了学习的积极</tspan><tspan x="513" dy="17">性和自主性才能够继续学习好。二年级的学生</tspan><tspan x="513" dy="17">接触学习不蛮久，所以要提高他们对学习的自</tspan><tspan x="513" dy="17">主性，对他们多进行鼓励。</tspan></text></g>
<g id="p5e3"><rect class="n" x="506" y="2770" width="279" height="166" rx="6"/><text class="t" x="513" y="2790.5"><tspan x="513">对三年级的教育总让我感到快乐。在与他们接</tspan><tspan x="513" dy="17">触的时候感觉自己都回到了童年。然而里面也</tspan><tspan x="513" dy="17">有一个让我头疼的学生。她叫夏丽君，一个看</tspan><tspan x="513" dy="17">起来是二年级的学生。她上课极容易开小差，</tspan><tspan x="513" dy="17">因此对知识的掌握比其他学生也较慢。所以，</tspan><tspan x="513" dy="17">在下午的作业辅导后有时会出题目给她回家做</tspan><tspan x="513" dy="17">，对知识进行进一步的掌握。但他也有让我宽</tspan><tspan x="513" dy="17">心的是有时早上布置的作业会回家做完，而且</tspan><tspan x="513" dy="17">完成的还可以。</tspan></text></g>
<g id="p5e4"><rect class="n" x="506" y="2966" width="279" height="149" rx="6"/><text class="t" x="513" y="2986.5"><tspan x="513">四年级也有一个让我头疼的厉害的就是杨天龙</tspan><tspan x="513" dy="17">，一个比较聪明但又非常沉默的学生。第一天</tspan><tspan x="513" dy="17">上课回答问题比别的学生也没那么积极。是说</tspan><tspan x="513" dy="17">比较腼腆还是。。。在经过几次的谈话后（虽</tspan><tspan x="513" dy="17">然每次他都会自己感觉到很委屈而掉下眼泪）</tspan><tspan x="513" dy="17">有所改善。上课能够积极的举手，不懂的也会</tspan><tspan x="513" dy="17">来问老师。希望在以后的学习能够在保持的基</tspan><tspan x="513" dy="17">础上得到提高。</tspan></text></g>
<g id="p5e5"><rect class="n" x="506" y="3144" width="279" height="132" rx="6"/><text class="t" x="513" y="3164.5"><tspan x="513">五年级的学生中一个叫肖晨露的女孩给了我较</tspan><tspan x="513" dy="17">为深的映象。上课第一天的她感觉对知识蛮不</tspan><tspan x="513" dy="17">屑的态度，让我心里不爽快了，便下了决心一</tspan><tspan x="513" dy="17">定得让你改变态度。在教学的过程中与她会有</tspan><tspan x="513" dy="17">些小摩擦，但现在的她比较听我的话，而且感</tspan><tspan x="513" dy="17">觉到她对我的态度与以前大不相同了。用心了</tspan><tspan x="513" dy="17">，就会有回报———我坚信。</tspan></text></g>
<g id="p5e6"><rect class="n" x="506" y="3306" width="279" height="98" rx="6"/><text class="t" x="513" y="3326.5"><tspan x="513">现在刚接手的六年级虽然接触的时间不长，但</tspan><tspan x="513" dy="17">我们之间也变得比较熟悉。其中的一个学生尹</tspan><tspan x="513" dy="17">远给我较为深的印象。她是一个上课绝不打小</tspan><tspan x="513" dy="17">差的女孩，认认真真听讲。在问问题时总会抒</tspan><tspan x="513" dy="17">一口气，感觉她有点不自然。</tspan></text></g>
<g id="p5e7"><rect class="n" x="506" y="3434" width="279" height="132" rx="6"/><text class="t" x="513" y="3454.5"><tspan x="513">对于所有的年级的学生我认为作为一个老师必</tspan><tspan x="513" dy="17">须要有的就是一颗责任心和耐心。对于年级小</tspan><tspan x="513" dy="17">的学生们要经常性的鼓励，大年级的学生既要</tspan><tspan x="513" dy="17">一时严厉一时松。对于我自己，在这次教育中</tspan><tspan x="513" dy="17">，我觉得自己不足的一点就是对学生不太严，</tspan><tspan x="513" dy="17">让一些高年级的学生不好服从，以后教学的时</tspan><tspan x="513" dy="17">候，我会注意这个问题。</tspan></text></g>
</svg>
